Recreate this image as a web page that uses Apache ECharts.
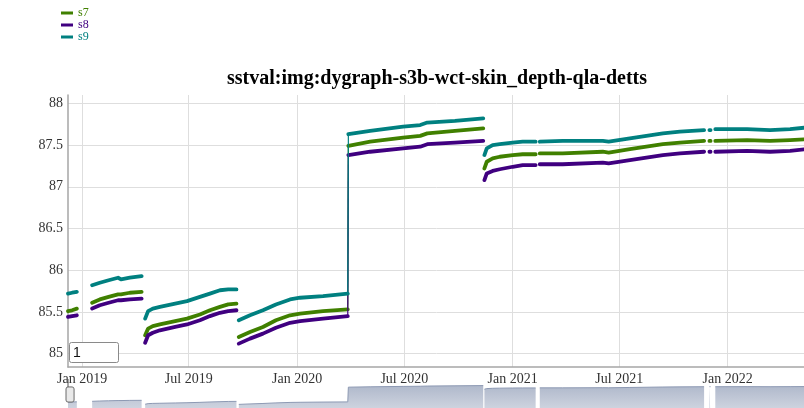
<!DOCTYPE html>
<html>
<head>
<meta charset="utf-8">
<script src="https://cdn.jsdelivr.net/npm/echarts@6/dist/echarts.min.js"></script>
<style>
  html, body { margin: 0; padding: 0; background: #fff; }
  #chart { width: 804px; height: 408px; }
</style>
</head>
<body>
<div id="chart"></div>
<script>
// Daily skin-depth values, sampled along each run; null marks a break in the record.
const dates = [
  '2018-12-08', '2018-12-15', '2018-12-23', '2019-01-05',
  '2019-01-18', '2019-01-31', '2019-02-15', '2019-03-03', '2019-03-08', '2019-03-23', '2019-04-12', '2019-04-15',
  '2019-04-18', '2019-04-23', '2019-05-01', '2019-05-13', '2019-06-08', '2019-06-28', '2019-07-20', '2019-08-06',
  '2019-08-23', '2019-09-06', '2019-09-20', '2019-09-22',
  '2019-09-24', '2019-10-13', '2019-11-04', '2019-11-26', '2019-12-20', '2020-01-06', '2020-02-14', '2020-03-27',
  '2020-03-28', '2020-05-04', '2020-06-29', '2020-07-28', '2020-08-09', '2020-09-25', '2020-11-12', '2020-11-13',
  '2020-11-14', '2020-11-18', '2020-11-28', '2020-12-10', '2021-01-01', '2021-01-18', '2021-02-09', '2021-02-12',
  '2021-02-16', '2021-03-27', '2021-06-03', '2021-06-13', '2021-07-19', '2021-09-13', '2021-10-12', '2021-11-22',
  '2021-11-26', '2021-12-01', '2021-12-03', '2021-12-06',
  '2021-12-11', '2022-02-03', '2022-03-14', '2022-04-17', '2022-05-14'
];
const s7 = [
  85.51, 85.52, 85.54, null,
  85.61, 85.65, 85.68, 85.71, 85.71, 85.73, 85.74, null,
  85.22, 85.30, 85.33, 85.35, 85.39, 85.42, 85.47, 85.52,
  85.56, 85.59, 85.60, null,
  85.20, 85.26, 85.32, 85.40, 85.46, 85.48, 85.51, 85.53,
  87.49, 87.54, 87.59, 87.61, 87.64, 87.67, 87.70, null,
  87.22, 87.30, 87.34, 87.36, 87.38, 87.39, 87.39, null,
  87.40, 87.40, 87.42, 87.41, 87.45, 87.51, 87.53, 87.55,
  null, 87.55, 87.55, null,
  87.55, 87.56, 87.55, 87.56, 87.57
];
const s8 = [
  85.44, 85.45, 85.46, null,
  85.54, 85.58, 85.61, 85.64, 85.64, 85.65, 85.66, null,
  85.13, 85.22, 85.25, 85.28, 85.32, 85.35, 85.40, 85.45,
  85.49, 85.51, 85.52, null,
  85.12, 85.18, 85.24, 85.31, 85.37, 85.39, 85.42, 85.45,
  87.38, 87.42, 87.46, 87.48, 87.51, 87.53, 87.55, null,
  87.08, 87.16, 87.19, 87.21, 87.24, 87.26, 87.26, null,
  87.27, 87.27, 87.29, 87.28, 87.32, 87.38, 87.40, 87.42,
  null, 87.42, 87.42, null,
  87.42, 87.43, 87.42, 87.43, 87.45
];
const s9 = [
  85.72, 85.73, 85.74, null,
  85.82, 85.85, 85.88, 85.91, 85.89, 85.91, 85.93, null,
  85.42, 85.51, 85.54, 85.56, 85.60, 85.63, 85.68, 85.72,
  85.76, 85.77, 85.77, null,
  85.40, 85.46, 85.52, 85.59, 85.65, 85.67, 85.69, 85.72,
  87.63, 87.67, 87.72, 87.74, 87.77, 87.79, 87.82, null,
  87.38, 87.46, 87.50, 87.51, 87.53, 87.54, 87.54, null,
  87.54, 87.55, 87.55, 87.54, 87.58, 87.64, 87.66, 87.68,
  null, 87.68, 87.68, null,
  87.69, 87.69, 87.68, 87.69, 87.71
];

const seriesNames = ['s7', 's8', 's9'];
const seriesColors = ['#408000', '#400080', '#008080'];
const yTicks = [85, 85.5, 86, 86.5, 87, 87.5, 88];
const xTicks = ['2019-01-01', '2019-07-01', '2020-01-01', '2020-07-01', '2021-01-01', '2021-07-01', '2022-01-01'];
const xRange = ['2018-12-08', '2022-05-14'];
const titleText = 'sstval:img:dygraph-s3b-wct-skin_depth-qla-detts';
const rollPeriod = '1';

const MONTHS = ['Jan', 'Feb', 'Mar', 'Apr', 'May', 'Jun', 'Jul', 'Aug', 'Sep', 'Oct', 'Nov', 'Dec'];
const STEP_LIMIT = 1.0; // steps larger than this are drawn with a thin stroke only

function toTime(s) {
  const p = s.split('-').map(Number);
  return Date.UTC(p[0], p[1] - 1, p[2]);
}
function pairs(values) {
  return dates.map((d, i) => [toTime(d), values[i]]);
}
// Thick band: break the line at large steps.
function bandData(values) {
  const out = [];
  pairs(values).forEach((p, i, all) => {
    if (i > 0 && p[1] != null && all[i - 1][1] != null && Math.abs(p[1] - all[i - 1][1]) > STEP_LIMIT) {
      out.push([(p[0] + all[i - 1][0]) / 2, null]);
    }
    out.push(p);
  });
  return out;
}
// Thin connectors for the large steps.
function stepData(values) {
  const out = [];
  pairs(values).forEach((p, i, all) => {
    if (i > 0 && p[1] != null && all[i - 1][1] != null && Math.abs(p[1] - all[i - 1][1]) > STEP_LIMIT) {
      if (out.length) out.push([all[i - 1][0], null]);
      out.push(all[i - 1], p);
    }
  });
  return out;
}

const SERIF = '"Liberation Serif", "DejaVu Serif", serif';
const xMin = toTime(xRange[0]);
const xMax = toTime(xRange[1]);
const xTickValues = xTicks.map(toTime);
const valueLists = [s7, s8, s9];

const chart = echarts.init(document.getElementById('chart'), null, { renderer: 'canvas' });

const lineSeries = [];
seriesNames.forEach((name, i) => {
  lineSeries.push({
    name: name,
    type: 'line',
    xAxisIndex: 0,
    yAxisIndex: 0,
    data: stepData(valueLists[i]),
    showSymbol: false,
    symbol: 'none',
    silent: true,
    lineStyle: { width: 1.2, color: seriesColors[i] },
    itemStyle: { color: seriesColors[i] },
    emphasis: { disabled: true },
    z: 3 + i * 2
  });
  lineSeries.push({
    name: name,
    type: 'line',
    xAxisIndex: 0,
    yAxisIndex: 0,
    data: bandData(valueLists[i]),
    showSymbol: false,
    symbol: 'none',
    connectNulls: false,
    lineStyle: { width: 3.8, color: seriesColors[i], cap: 'round', join: 'round' },
    itemStyle: { color: seriesColors[i] },
    emphasis: { disabled: true },
    z: 4 + i * 2
  });
});

// Overview strip under the plot (range selector), drawn from the first series.
const overviewSeries = {
  type: 'line',
  xAxisIndex: 1,
  yAxisIndex: 1,
  data: pairs(s7),
  showSymbol: false,
  symbol: 'none',
  silent: true,
  lineStyle: { width: 1, color: '#8d99b3' },
  areaStyle: {
    origin: 'start',
    opacity: 1,
    color: new echarts.graphic.LinearGradient(0, 381, 0, 421, [
      { offset: 0, color: '#a9b3c7' },
      { offset: 1, color: '#dfe2ea' }
    ], true)
  },
  emphasis: { disabled: true }
};

chart.setOption({
  animation: false,
  backgroundColor: '#ffffff',
  title: {
    text: titleText,
    left: 432,
    top: 64,
    textAlign: 'center',
    textStyle: { fontFamily: SERIF, fontWeight: 'bold', fontSize: 20, color: '#000' }
  },
  legend: {
    orient: 'vertical',
    left: 61,
    top: 7,
    padding: 0,
    itemWidth: 12,
    itemHeight: 3,
    itemGap: 0,
    icon: 'rect',
    selectedMode: false,
    data: seriesNames.map((n, i) => ({ name: n, textStyle: { color: seriesColors[i] } })),
    textStyle: { fontFamily: SERIF, fontSize: 12, lineHeight: 12 }
  },
  grid: [
    { left: 68, right: -2, top: 95, bottom: 41, outerBoundsMode: 'none', containLabel: false },
    { left: 68, right: -2, top: 381, height: 40, outerBoundsMode: 'none', containLabel: false }
  ],
  xAxis: [
    {
      type: 'value',
      gridIndex: 0,
      min: xMin,
      max: xMax,
      axisLine: { show: true, onZero: false, lineStyle: { color: '#a6a6a6', width: 1.5 } },
      axisTick: { show: false, customValues: xTickValues },
      splitLine: { show: true, lineStyle: { color: '#dedede', width: 1 } },
      axisLabel: {
        customValues: xTickValues,
        margin: 5,
        color: '#333',
        fontFamily: SERIF,
        fontSize: 14,
        formatter: function (v) {
          const d = new Date(v);
          return MONTHS[d.getUTCMonth()] + ' ' + d.getUTCFullYear();
        }
      }
    },
    {
      type: 'value',
      gridIndex: 1,
      min: xMin,
      max: xMax,
      show: false
    }
  ],
  yAxis: [
    {
      type: 'value',
      gridIndex: 0,
      min: 84.84,
      max: 88.1,
      axisLine: { show: true, onZero: false, lineStyle: { color: '#a6a6a6', width: 1.5 } },
      axisTick: { show: false, customValues: yTicks },
      splitLine: { show: true, lineStyle: { color: '#dedede', width: 1 } },
      axisLabel: {
        customValues: yTicks,
        margin: 5,
        color: '#333',
        fontFamily: SERIF,
        fontSize: 14
      }
    },
    {
      type: 'value',
      gridIndex: 1,
      min: 82.99,
      max: 88.31,
      show: false
    }
  ],
  dataZoom: [
    {
      type: 'slider',
      xAxisIndex: 0,
      filterMode: 'none',
      start: 0,
      end: 100,
      left: 68,
      right: -8,
      top: 381,
      height: 27,
      showDataShadow: false,
      showDetail: false,
      brushSelect: false,
      moveHandleSize: 0,
      backgroundColor: 'rgba(0,0,0,0)',
      borderColor: 'rgba(0,0,0,0)',
      fillerColor: 'rgba(0,0,0,0)',
      handleIcon: 'path://M2,0 L6,0 Q8,0 8,2 L8,13 Q8,15 6,15 L2,15 Q0,15 0,13 L0,2 Q0,0 2,0 Z',
      handleSize: '56%',
      handleStyle: { color: '#e9e9e9', borderColor: '#6a6a6a', borderWidth: 1 },
      emphasis: { handleStyle: { color: '#e9e9e9', borderColor: '#6a6a6a', borderWidth: 1 } },
      dataBackground: { lineStyle: { opacity: 0 }, areaStyle: { opacity: 0 } },
      selectedDataBackground: { lineStyle: { opacity: 0 }, areaStyle: { opacity: 0 } },
      z: 10
    }
  ],
  graphic: [
    {
      type: 'line',
      z: 20,
      shape: { x1: 68, y1: 379, x2: 68, y2: 387 },
      style: { stroke: '#555', lineWidth: 1 }
    },
    {
      type: 'rect',
      z: 20,
      shape: { x: 69.5, y: 342.5, width: 49, height: 20, r: 2 },
      style: { fill: '#ffffff', stroke: '#8a8a8a', lineWidth: 1 }
    },
    {
      type: 'text',
      z: 21,
      x: 73,
      y: 353,
      style: {
        text: rollPeriod,
        font: '14px "Liberation Sans", Arial, sans-serif',
        fill: '#111',
        verticalAlign: 'middle'
      }
    }
  ],
  series: lineSeries.concat([overviewSeries])
});
</script>
</body>
</html>
